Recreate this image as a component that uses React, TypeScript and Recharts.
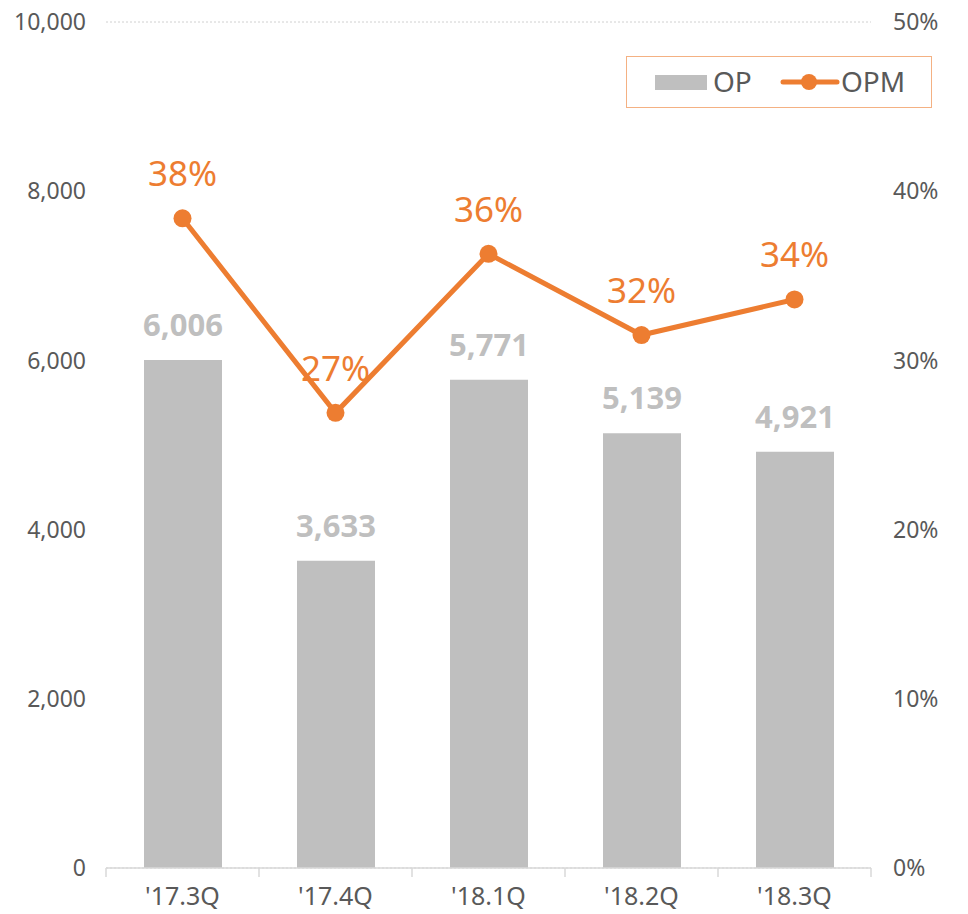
import React from "react";
import { ComposedChart, Bar, Line, XAxis, YAxis, CartesianGrid, LabelList } from "recharts";

const categories = ["'17.3Q", "'17.4Q", "'18.1Q", "'18.2Q", "'18.3Q"];
const opValues = [6006, 3633, 5771, 5139, 4921];
const opmValues = [38.4, 26.9, 36.3, 31.5, 33.6];
const leftTicks = [0, 2000, 4000, 6000, 8000, 10000];
const rightTicks = [0, 10, 20, 30, 40, 50];
const legendLabels = ["OP", "OPM"];

const data = categories.map((c, i) => ({ name: c, op: opValues[i], opm: opmValues[i] }));

const FONT = "'Noto Sans', sans-serif";
const GREY = "#bfbfbf";
const ORANGE = "#ed7d31";
const TEXT = "#595959";

const XTick = (props: any) => {
  const { x, y, payload, index } = props;
  const half = payload && payload.offset ? payload.offset : 76.5;
  const last = index === categories.length - 1;
  return (
    <g>
      <line x1={x - half} y1={y - 8} x2={x - half} y2={y + 1} stroke="#d9d9d9" strokeWidth={1.5} />
      {last && <line x1={x + half} y1={y - 8} x2={x + half} y2={y + 1} stroke="#d9d9d9" strokeWidth={1.5} />}
      <text x={x} y={y + 29} textAnchor="middle" fill={TEXT} fontSize={25} fontFamily={FONT}>
        {payload.value}
      </text>
    </g>
  );
};

const LegendBox = () => (
  <div
    style={{
      position: "absolute",
      left: 618,
      top: 56,
      width: 306,
      height: 52,
      boxSizing: "border-box",
      border: "1.5px solid #f4b183",
      background: "#fff",
    }}
  >
    <svg width={306} height={52} style={{ position: "absolute", left: -1.5, top: -1.5 }}>
      <rect x={29} y={19} width={52} height={15} fill={GREY} />
      <text x={87} y={36} fontSize={28} fill={TEXT} fontFamily={FONT}>{legendLabels[0]}</text>
      <line x1={157} y1={26} x2={211} y2={26} stroke={ORANGE} strokeWidth={5} strokeLinecap="round" />
      <circle cx={183} cy={26} r={8} fill={ORANGE} />
      <text x={215} y={36} fontSize={28} fill={TEXT} fontFamily={FONT}>{legendLabels[1]}</text>
    </svg>
  </div>
);

export default function App() {
  return (
    <div style={{ position: "relative", width: 960, height: 914, marginTop: -8 }}>
      <ComposedChart
        width={960}
        height={914}
        data={data}
        margin={{ top: 22, right: 0, bottom: 0, left: 0 }}
      >
        <CartesianGrid vertical={false} stroke="#d0d0d0" strokeDasharray="2 2" />
        <XAxis
          dataKey="name"
          height={46}
          axisLine={{ stroke: "#d9d9d9", strokeWidth: 1.5 }}
          tickLine={false}
          tick={<XTick />}
          interval={0}
        />
        <YAxis
          yAxisId="left"
          width={98}
          domain={[0, 10000]}
          ticks={leftTicks}
          axisLine={false}
          tickLine={false}
          tickSize={0}
          tickMargin={20}
          tick={{ fill: TEXT, fontSize: 23, fontFamily: FONT }}
          tickFormatter={(v: number) => v.toLocaleString("en-US")}
        />
        <YAxis
          yAxisId="right"
          orientation="right"
          width={97}
          domain={[0, 50]}
          ticks={rightTicks}
          axisLine={false}
          tickLine={false}
          tickSize={0}
          tickMargin={22}
          tick={{ fill: TEXT, fontSize: 23, fontFamily: FONT }}
          tickFormatter={(v: number) => v + "%"}
        />
        <Bar yAxisId="left" dataKey="op" name="OP" fill={GREY} barSize={78} isAnimationActive={false}>
          <LabelList
            dataKey="op"
            position="top"
            offset={24}
            fill={GREY}
            fontSize={31}
            fontWeight="bold"
            fontFamily={FONT}
            formatter={(v: any) => Number(v).toLocaleString("en-US")}
          />
        </Bar>
        <Line
          yAxisId="right"
          dataKey="opm"
          name="OPM"
          stroke={ORANGE}
          strokeWidth={5}
          dot={{ r: 9, fill: ORANGE, stroke: ORANGE, strokeWidth: 0 }}
          activeDot={false}
          isAnimationActive={false}
        >
          <LabelList
            dataKey="opm"
            position="top"
            offset={32}
            fill={ORANGE}
            fontSize={35}
            fontFamily={FONT}
            formatter={(v: any) => Math.round(Number(v)) + "%"}
          />
        </Line>
      </ComposedChart>
      <LegendBox />
    </div>
  );
}
